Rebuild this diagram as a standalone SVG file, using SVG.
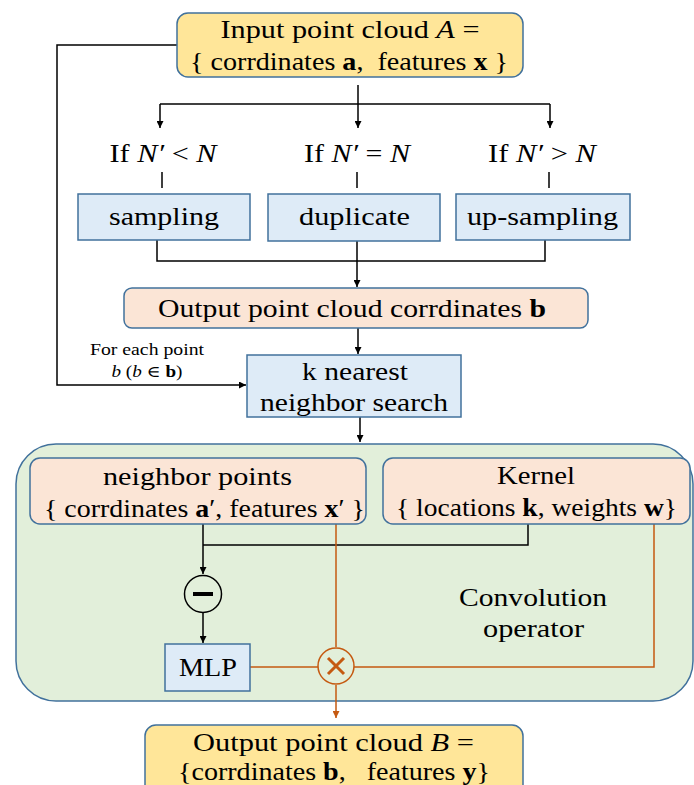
<svg xmlns="http://www.w3.org/2000/svg" width="694" height="785" viewBox="0 0 694 785">
<defs>
<marker id="ah" viewBox="0 0 10 10" refX="10" refY="5" markerWidth="7" markerHeight="7" markerUnits="userSpaceOnUse" orient="auto"><path d="M0,0 L10,5 L0,10 z" fill="#000"/></marker>
<marker id="ao" viewBox="0 0 10 10" refX="10" refY="5" markerWidth="7" markerHeight="7" markerUnits="userSpaceOnUse" orient="auto"><path d="M0,0 L10,5 L0,10 z" fill="#C55A11"/></marker>
<style>
text{font-family:"Liberation Serif","DejaVu Serif",serif;fill:#000;text-anchor:middle}
.t{font-size:25px}
.s{font-size:16px}
.y{fill:#FFE699;stroke:#41719C;stroke-width:1.5}
.p{fill:#FBE5D6;stroke:#41719C;stroke-width:1.5}
.b{fill:#DEEBF7;stroke:#41719C;stroke-width:1.5}
.g{fill:#E2EFDA;stroke:#41719C;stroke-width:1.5}
.k{fill:none;stroke:#000;stroke-width:1.5}
.o{fill:none;stroke:#C55A11;stroke-width:1.5}
.i{font-style:italic}
.bd{font-weight:bold}
</style>
</defs>
<g id="container"><rect class="g" x="16" y="444" width="677" height="257" rx="40"/></g>
<g id="connectors">
<path class="k" d="M358,85 V104"/>
<path class="k" d="M160,104 H550"/>
<path class="k" d="M160,104 V128" marker-end="url(#ah)"/>
<path class="k" d="M358,104 V128" marker-end="url(#ah)"/>
<path class="k" d="M550,104 V128" marker-end="url(#ah)"/>
<path class="k" d="M162,172 V188 M357,172 V188 M549,172 V188"/>
<path class="k" d="M157,240 V261 H545 V240 M357,240 V261"/>
<path class="k" d="M357,261 V287" marker-end="url(#ah)"/>
<path class="k" d="M358,328 V354" marker-end="url(#ah)"/>
<path class="k" d="M177,45 H57 V385 H246" marker-end="url(#ah)"/>
<path class="k" d="M360,417 V442" marker-end="url(#ah)"/>
<path class="k" d="M203,524 V574" marker-end="url(#ah)"/>
<path class="k" d="M203,545 H528 V524"/>
<path class="k" d="M203,612 V643" marker-end="url(#ah)"/>
<path class="o" d="M336,524 V647"/>
<path class="o" d="M250,667 H318"/>
<path class="o" d="M354,667 H654 V524"/>
<path class="o" d="M336,685 V718" marker-end="url(#ao)"/>
</g>
<g id="input"><rect class="y" x="177" y="13" width="346" height="64" rx="11"/>
<text class="t" x="350" y="38" textLength="259" lengthAdjust="spacingAndGlyphs">Input point cloud <tspan class="i">A</tspan> =</text>
<text class="t" x="349" y="70" textLength="318" lengthAdjust="spacingAndGlyphs">{ corrdinates <tspan class="bd">a</tspan>,&#160; features <tspan class="bd">x</tspan> }</text></g>
<g id="cond1"><text class="t" x="163" y="162" textLength="107" lengthAdjust="spacingAndGlyphs">If <tspan class="i">N′</tspan> &lt; <tspan class="i">N</tspan></text></g>
<g id="cond2"><text class="t" x="357" y="162" textLength="106" lengthAdjust="spacingAndGlyphs">If <tspan class="i">N′</tspan> = <tspan class="i">N</tspan></text></g>
<g id="cond3"><text class="t" x="542" y="162" textLength="108" lengthAdjust="spacingAndGlyphs">If <tspan class="i">N′</tspan> &gt; <tspan class="i">N</tspan></text></g>
<g id="sampling"><rect class="b" x="78" y="194" width="172" height="46"/><text class="t" x="164" y="225" textLength="110" lengthAdjust="spacingAndGlyphs">sampling</text></g>
<g id="duplicate"><rect class="b" x="268" y="194" width="172" height="47"/><text class="t" x="354.5" y="225" textLength="111" lengthAdjust="spacingAndGlyphs">duplicate</text></g>
<g id="upsampling"><rect class="b" x="456" y="194" width="174" height="46"/><text class="t" x="542.5" y="225" textLength="151" lengthAdjust="spacingAndGlyphs">up-sampling</text></g>
<g id="outcoords"><rect class="p" x="124" y="288" width="464" height="40" rx="8"/><text class="t" x="352" y="317" textLength="388" lengthAdjust="spacingAndGlyphs">Output point cloud corrdinates <tspan class="bd">b</tspan></text></g>
<g id="foreach"><text class="s" x="147" y="355" textLength="114" lengthAdjust="spacingAndGlyphs">For each point</text><text class="s" x="147" y="377" textLength="71" lengthAdjust="spacingAndGlyphs"><tspan class="i">b</tspan> (<tspan class="i">b</tspan> ∈ <tspan class="bd">b</tspan>)</text></g>
<g id="knn"><rect class="b" x="247" y="355" width="214" height="62"/><text class="t" x="355" y="380" textLength="106" lengthAdjust="spacingAndGlyphs">k nearest</text><text class="t" x="354" y="411" textLength="188" lengthAdjust="spacingAndGlyphs">neighbor search</text></g>
<g id="neighbors"><rect class="p" x="30" y="458" width="336" height="66" rx="10"/><text class="t" x="197.5" y="485" textLength="189" lengthAdjust="spacingAndGlyphs">neighbor points</text><text class="t" x="204.5" y="517" textLength="321" lengthAdjust="spacingAndGlyphs">{ corrdinates <tspan class="bd">a</tspan>′, features <tspan class="bd">x</tspan>′ }</text></g>
<g id="kernel"><rect class="p" x="383" y="458" width="307" height="66" rx="10"/><text class="t" x="536" y="484" textLength="78" lengthAdjust="spacingAndGlyphs">Kernel</text><text class="t" x="536.5" y="516" textLength="281" lengthAdjust="spacingAndGlyphs">{ locations <tspan class="bd">k</tspan>, weights <tspan class="bd">w</tspan>}</text></g>
<g id="minus"><circle cx="203" cy="594" r="18.5" fill="none" stroke="#000" stroke-width="1.5"/><path d="M193,594 H213" stroke="#000" stroke-width="4"/></g>
<g id="mlp"><rect class="b" x="165" y="644" width="85" height="47"/><text class="t" x="208" y="676" textLength="58" lengthAdjust="spacingAndGlyphs">MLP</text></g>
<g id="mult"><circle cx="336" cy="666" r="18" fill="none" stroke="#C55A11" stroke-width="1.5"/><path d="M328,658 L344,674 M344,658 L328,674" stroke="#C55A11" stroke-width="3"/></g>
<g id="convlabel"><text class="t" x="533" y="606" textLength="148" lengthAdjust="spacingAndGlyphs">Convolution</text><text class="t" x="533.5" y="637" textLength="101" lengthAdjust="spacingAndGlyphs">operator</text></g>
<g id="output"><rect class="y" x="145" y="725" width="378" height="80" rx="11"/>
<text class="t" x="333.5" y="751" textLength="281" lengthAdjust="spacingAndGlyphs">Output point cloud <tspan class="i">B</tspan> =</text>
<text class="t" x="334" y="780" textLength="312" lengthAdjust="spacingAndGlyphs">{corrdinates <tspan class="bd">b</tspan>,&#160;&#160; features <tspan class="bd">y</tspan>}</text></g>
</svg>
